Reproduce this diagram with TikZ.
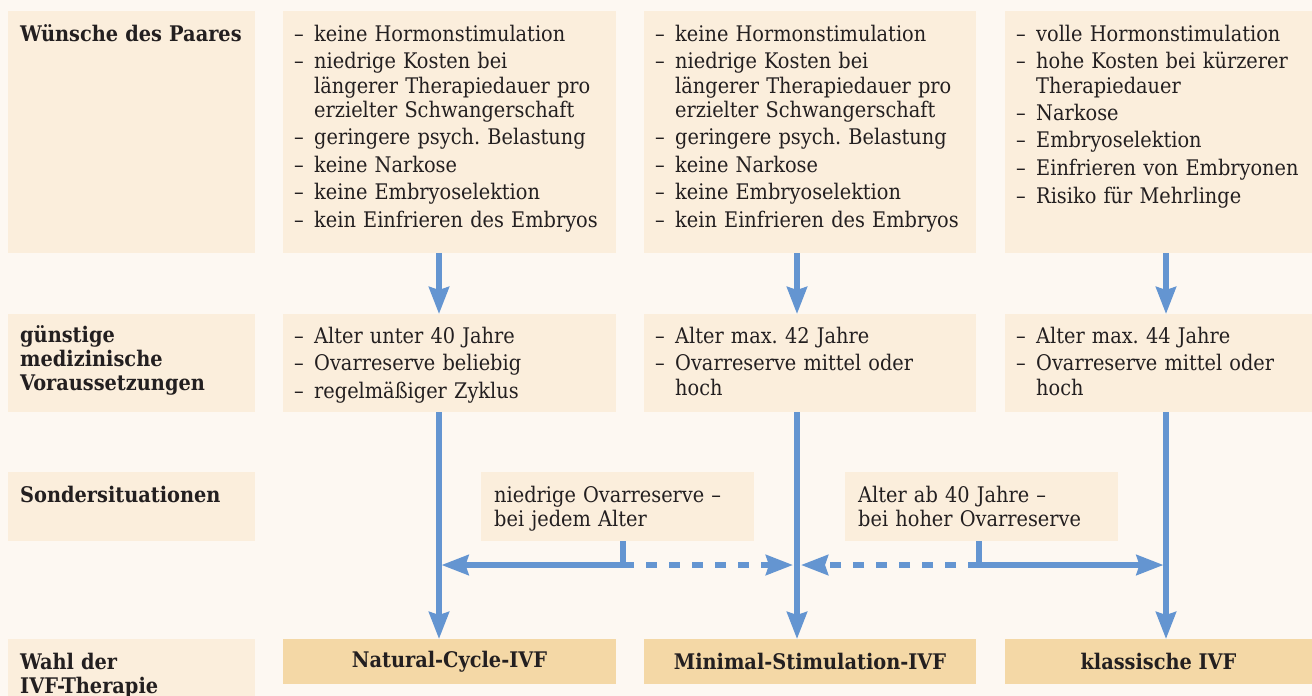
\documentclass[tikz,border=0pt]{standalone}
\usepackage{fontspec}
\setmainfont{DejaVu Serif Condensed}
\usetikzlibrary{arrows.meta}
\definecolor{grund}{HTML}{FDF8F2}
\definecolor{feld}{HTML}{FBEEDC}
\definecolor{wahl}{HTML}{F4D8A6}
\definecolor{blau}{HTML}{6495D1}
\definecolor{schrift}{HTML}{231F20}
\frenchspacing
\newcommand{\pkt}[1]{\setlength{\parskip}{3pt}\noindent\hangindent=20pt\makebox[20pt][l]{–}#1\par}

\begin{document}
\begin{tikzpicture}[x=1pt,y=-1pt,
    font=\fontsize{21.5}{24.5}\selectfont, text=schrift,
    feldbox/.style={fill=feld, anchor=north west, inner sep=0pt, outer sep=0pt},
    wahlbox/.style={fill=wahl, anchor=north west, inner sep=0pt, outer sep=0pt, font=\fontsize{21.5}{24.5}\selectfont\bfseries},
    kopf/.style={anchor=base west, inner sep=0pt, text width=240pt, font=\fontsize{21.5}{24}\selectfont\bfseries},
    punkte/.style={anchor=base west, inner sep=0pt, text width=400pt},
    strom/.style={draw=blau, line width=5.5pt, -{Stealth[length=27pt,width=20pt,inset=3pt]}}]
    \useasboundingbox (0,0) rectangle (1312,696);
    \fill[grund] (0,0) rectangle (1312,696);

    \node[feldbox, minimum width=247pt, minimum height=242pt] (k1) at (8,11) {};
    \node[feldbox, minimum width=247pt, minimum height=98pt] (k2) at (8,314) {};
    \node[feldbox, minimum width=247pt, minimum height=69pt] (k3) at (8,472) {};
    \node[feldbox, minimum width=247pt, minimum height=57pt] (k4) at (8,639) {};
    \node[kopf] (kt1) at ([xshift=12pt,yshift=-30pt]k1.north west) {Wünsche des Paares};
    \node[kopf] (kt2) at ([xshift=12pt,yshift=-28pt]k2.north west) {günstige\\medizinische\\Voraussetzungen};
    \node[kopf] (kt3) at ([xshift=12pt,yshift=-30pt]k3.north west) {Sondersituationen};
    \node[kopf] (kt4) at ([xshift=12pt,yshift=-30pt]k4.north west) {Wahl der\\IVF-Therapie};

    \node[feldbox, minimum width=333pt, minimum height=242pt] (w1) at (283,11) {};
    \node[feldbox, minimum width=332pt, minimum height=242pt] (w2) at (644,11) {};
    \node[feldbox, minimum width=307pt, minimum height=242pt] (w3) at (1005,11) {};
    \node[punkte] (wt1) at ([xshift=11pt,yshift=-30pt]w1.north west) {\pkt{keine Hormonstimulation}\pkt{niedrige Kosten bei\newline längerer Therapiedauer pro\newline erzielter Schwangerschaft}\pkt{geringere psych. Belastung}\pkt{keine Narkose}\pkt{keine Embryoselektion}\pkt{kein Einfrieren des Embryos}};
    \node[punkte] (wt2) at ([xshift=11pt,yshift=-30pt]w2.north west) {\pkt{keine Hormonstimulation}\pkt{niedrige Kosten bei\newline längerer Therapiedauer pro\newline erzielter Schwangerschaft}\pkt{geringere psych. Belastung}\pkt{keine Narkose}\pkt{keine Embryoselektion}\pkt{kein Einfrieren des Embryos}};
    \node[punkte] (wt3) at ([xshift=11pt,yshift=-30pt]w3.north west) {\pkt{volle Hormonstimulation}\pkt{hohe Kosten bei kürzerer\newline Therapiedauer}\pkt{Narkose}\pkt{Embryoselektion}\pkt{Einfrieren von Embryonen}\pkt{Risiko für Mehrlinge}};

    \node[feldbox, minimum width=333pt, minimum height=98pt] (v1) at (283,314) {};
    \node[feldbox, minimum width=332pt, minimum height=98pt] (v2) at (644,314) {};
    \node[feldbox, minimum width=307pt, minimum height=98pt] (v3) at (1005,314) {};
    \node[punkte] (vt1) at ([xshift=11pt,yshift=-29pt]v1.north west) {\pkt{Alter unter 40 Jahre}\pkt{Ovarreserve beliebig}\pkt{regelmäßiger Zyklus}};
    \node[punkte] (vt2) at ([xshift=11pt,yshift=-29pt]v2.north west) {\pkt{Alter max. 42 Jahre}\pkt{Ovarreserve mittel oder\newline hoch}};
    \node[punkte] (vt3) at ([xshift=11pt,yshift=-29pt]v3.north west) {\pkt{Alter max. 44 Jahre}\pkt{Ovarreserve mittel oder\newline hoch}};

    \node[feldbox, minimum width=273pt, minimum height=69pt] (s1) at (481,472) {};
    \node[feldbox, minimum width=273pt, minimum height=69pt] (s2) at (845,472) {};
    \node[punkte] (st1) at ([xshift=13pt,yshift=-30pt]s1.north west) {niedrige Ovarreserve –\newline bei jedem Alter};
    \node[punkte] (st2) at ([xshift=13pt,yshift=-30pt]s2.north west) {Alter ab 40 Jahre –\newline bei hoher Ovarreserve};

    \node[wahlbox, minimum width=333pt, minimum height=45pt] (n1) at (283,639) {Natural-Cycle-IVF};
    \node[wahlbox, minimum width=332pt, minimum height=45pt] (n2) at (644,639) {Minimal-Stimulation-IVF};
    \node[wahlbox, minimum width=307pt, minimum height=45pt] (n3) at (1005,639) {klassische IVF};

    \foreach \i/\dx in {1/156,2/153,3/161}
        \draw[strom] ([xshift=\dx pt]w\i.south west) -- ([xshift=\dx pt]v\i.north west);
    \foreach \i/\dx in {1/156,2/153,3/161}
        \draw[strom] ([xshift=\dx pt]v\i.south west) -- ([xshift=\dx pt]n\i.north west);

    \coordinate (j1) at (623,565);
    \coordinate (j2) at (979,565);
    \coordinate (a1) at (439,565);
    \coordinate (a2) at (797,565);
    \coordinate (a3) at (1166,565);
    \draw[strom, shorten >=2.5pt] (s1.south -| j1) -- (j1) -- (a1);
    \draw[strom, dash pattern=on 11pt off 12pt, shorten >=4pt] (j1) -- (a2);
    \draw[strom, dash pattern=on 11pt off 12pt, shorten >=4pt] (j2) -- (a2);
    \draw[strom, shorten >=2.5pt] (s2.south -| j2) -- (j2) -- (a3);
\end{tikzpicture}
\end{document}
